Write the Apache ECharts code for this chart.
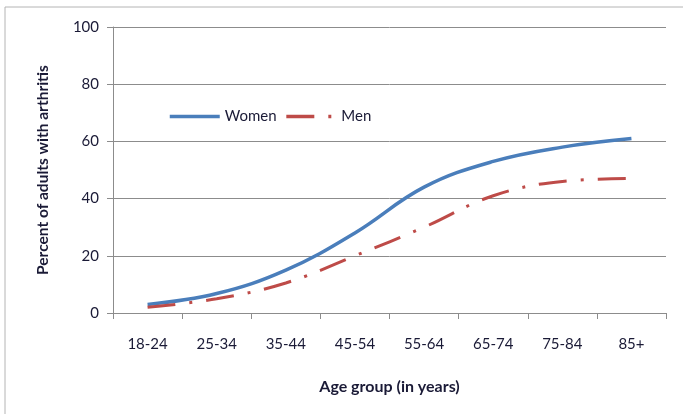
<!DOCTYPE html>
<html>
<head>
<meta charset="utf-8">
<script src="https://cdn.jsdelivr.net/npm/echarts@6/dist/echarts.min.js"></script>
<style>
  html, body { margin: 0; padding: 0; background: #fff; }
  #chart { width: 683px; height: 414px; }
</style>
</head>
<body>
<div id="chart"></div>
<script>
const ageGroups = ['18-24', '25-34', '35-44', '45-54', '55-64', '65-74', '75-84', '85+'];
const women = [3, 6.8, 15, 28, 44, 53, 58, 61];
const men = [2, 5, 10.5, 20, 30, 41, 46, 47];
const yTicks = [0, 20, 40, 60, 80, 100];

const textColor = '#1a1a36';
const gridColor = '#8c8c8c';

const chart = echarts.init(document.getElementById('chart'));

chart.setOption({
    animation: false,
    textStyle: { fontFamily: 'Lato' },
    grid: { left: 113, right: 17, top: 27, bottom: 101 },
    legend: {
        left: 163,
        top: 104,
        itemWidth: 50,
        itemHeight: 10,
        itemGap: 8,
        itemStyle: { opacity: 0 },
        lineStyle: { width: 3.5 },
        textStyle: { fontSize: 15, color: textColor, fontFamily: 'Lato' },
        data: ['Women', 'Men']
    },
    graphic: [
        {
            type: 'polyline',
            shape: { points: [[5, 414], [5, 7], [683, 7]] },
            style: { stroke: '#b4b4b4', lineWidth: 1, fill: null }
        }
    ],
    xAxis: {
        type: 'category',
        data: ageGroups,
        boundaryGap: true,
        name: 'Age group (in years)',
        nameLocation: 'middle',
        nameGap: 66,
        nameTextStyle: { fontSize: 16, fontWeight: 'bold', color: textColor },
        axisLine: { lineStyle: { color: gridColor, width: 1 } },
        axisTick: { show: true, length: 6, lineStyle: { color: gridColor } },
        axisLabel: { fontSize: 15, color: textColor, margin: 24 }
    },
    yAxis: {
        type: 'value',
        min: yTicks[0],
        max: yTicks[yTicks.length - 1],
        interval: 20,
        name: 'Percent of adults with arthritis',
        nameLocation: 'middle',
        nameGap: 62,
        nameTextStyle: { fontSize: 15.5, fontWeight: 'bold', color: textColor },
        axisLine: { show: true, lineStyle: { color: gridColor, width: 1 } },
        axisTick: { show: true, length: 6, lineStyle: { color: gridColor } },
        axisLabel: { fontSize: 15, color: textColor, margin: 14 },
        splitLine: { lineStyle: { color: gridColor, width: 1 } }
    },
    series: [
        {
            name: 'Women',
            type: 'line',
            data: women,
            smooth: 0.4,
            symbol: 'none',
            lineStyle: { color: '#4a7ebb', width: 3.5 },
            itemStyle: { color: '#4a7ebb' }
        },
        {
            name: 'Men',
            type: 'line',
            data: men,
            smooth: 0.4,
            symbol: 'none',
            lineStyle: { color: '#be4b48', width: 3, type: [28, 14, 3, 14] },
            itemStyle: { color: '#be4b48' }
        }
    ]
});
</script>
</body>
</html>
